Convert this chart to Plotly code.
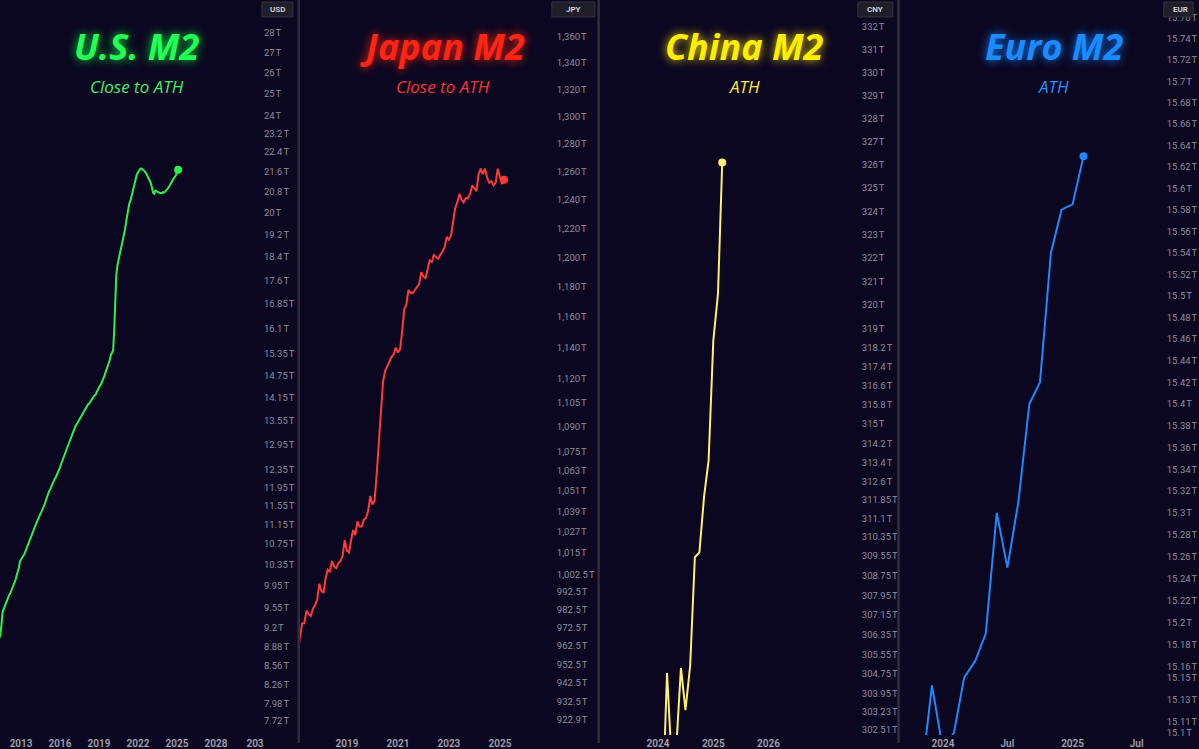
import math
import pandas as pd
import plotly.graph_objects as go

W, H = 1199, 749
SX, SY = 1.0048, 1.0052  # small correction so marks land where the reference puts them
BG = "#0c0720"
B = 737  # bottom pixel of plot areas

# ---------------- DATA ----------------
us_dates = pd.date_range("2011-01-01", "2025-02-01", freq="MS").strftime("%Y-%m-%d").tolist()
us_m2 = [
    8.82, 8.86, 8.91, 8.96, 9.01, 9.09, 9.25, 9.47, 9.52, 9.57, 9.62, 9.66,
    9.74, 9.77, 9.80, 9.85, 9.89, 9.95, 10.01, 10.06, 10.14, 10.21, 10.28, 10.41,
    10.44, 10.47, 10.52, 10.55, 10.60, 10.66, 10.71, 10.75, 10.82, 10.90, 10.97, 11.02,
    11.06, 11.13, 11.17, 11.23, 11.27, 11.34, 11.38, 11.43, 11.48, 11.53, 11.59, 11.67,
    11.75, 11.84, 11.87, 11.91, 11.97, 12.04, 12.09, 12.14, 12.18, 12.23, 12.28, 12.33,
    12.41, 12.49, 12.56, 12.63, 12.67, 12.74, 12.82, 12.90, 12.97, 13.04, 13.11, 13.21,
    13.25, 13.32, 13.39, 13.44, 13.48, 13.53, 13.57, 13.63, 13.68, 13.73, 13.79, 13.84,
    13.87, 13.92, 13.97, 13.99, 14.04, 14.08, 14.13, 14.17, 14.20, 14.23, 14.30, 14.37,
    14.43, 14.47, 14.51, 14.57, 14.64, 14.73, 14.82, 14.91, 14.98, 15.09, 15.18, 15.32,
    15.41, 15.45, 16.02, 17.04, 17.81, 18.12, 18.30, 18.37, 18.60, 18.78, 18.95, 19.13,
    19.38, 19.66, 19.91, 20.13, 20.34, 20.44, 20.59, 20.78, 20.96, 21.13, 21.32, 21.49,
    21.58, 21.61, 21.70, 21.72, 21.66, 21.65, 21.62, 21.57, 21.49, 21.39, 21.32, 21.22,
    21.12, 20.95, 20.76, 20.72, 20.84, 20.82, 20.79, 20.77, 20.75, 20.75, 20.74, 20.78,
    20.76, 20.80, 20.84, 20.88, 20.95, 21.02, 21.08, 21.17, 21.26, 21.31, 21.40, 21.45,
    21.56, 21.67,
]

jp_dates = pd.date_range("2017-01-01", "2025-03-01", freq="MS").strftime("%Y-%m-%d").tolist()
jp_m2 = [
    962, 960, 968, 975, 975, 982, 980, 979, 983, 985, 988, 997,
    993, 992, 1000, 1005, 1004, 1010, 1007, 1006, 1009, 1010, 1013, 1022,
    1016, 1015, 1022, 1028, 1025, 1033, 1030, 1030, 1034, 1035, 1039, 1048,
    1043, 1045, 1060, 1080, 1100, 1118, 1125, 1128, 1132, 1134, 1136, 1140,
    1137, 1139, 1150, 1165, 1168, 1178, 1176, 1176, 1178, 1180, 1182, 1190,
    1187, 1186, 1192, 1198, 1197, 1202, 1200, 1199, 1202, 1204, 1207, 1214,
    1212, 1215, 1224, 1234, 1238, 1244, 1240, 1238, 1241, 1241, 1244, 1250,
    1248, 1246, 1258, 1262, 1258, 1262, 1256, 1252, 1253, 1250, 1252, 1262,
    1256, 1251, 1254,
]

cn_dates = pd.date_range("2023-01-01", "2025-03-01", freq="MS").strftime("%Y-%m-%d").tolist()
cn_m2 = [
    273.8, 275.5, 281.5, 280.9, 282.1, 287.3, 285.4, 286.9, 289.7, 288.2, 291.0, 292.3,
    297.6, 299.6, 304.8, 301.2, 301.8, 305.0, 303.3, 305.1, 309.5, 309.7, 312.0, 313.5,
    318.5, 320.5, 326.1,
]

eu_dates = pd.date_range("2023-11-01", "2025-02-01", freq="MS").strftime("%Y-%m-%d").tolist()
eu_m2 = [
    15.06, 15.143, 15.085, 15.10, 15.15, 15.165, 15.19, 15.30, 15.25, 15.31,
    15.40, 15.42, 15.54, 15.58, 15.585, 15.63,
]

# tick labels
us_ticks = [28, 27, 26, 25, 24, 23.2, 22.4, 21.6, 20.8, 20, 19.2, 18.4, 17.6, 16.85, 16.1,
            15.35, 14.75, 14.15, 13.55, 12.95, 12.35, 11.95, 11.55, 11.15, 10.75, 10.35,
            9.95, 9.55, 9.2, 8.88, 8.56, 8.26, 7.98, 7.72]
jp_ticks = [1360, 1340, 1320, 1300, 1280, 1260, 1240, 1220, 1200, 1180, 1160, 1140, 1120,
            1105, 1090, 1075, 1063, 1051, 1039, 1027, 1015, 1002.5, 992.5, 982.5, 972.5,
            962.5, 952.5, 942.5, 932.5, 922.9]
cn_ticks = [332, 331, 330, 329, 328, 327, 326, 325, 324, 323, 322, 321, 320, 319, 318.2,
            317.4, 316.6, 315.8, 315, 314.2, 313.4, 312.6, 311.85, 311.1, 310.35, 309.55,
            308.75, 307.95, 307.15, 306.35, 305.55, 304.75, 303.95, 303.23, 302.51]
eu_ticks = [15.76, 15.74, 15.72, 15.7, 15.68, 15.66, 15.64, 15.62, 15.6, 15.58, 15.56, 15.54,
            15.52, 15.5, 15.48, 15.46, 15.44, 15.42, 15.4, 15.38, 15.36, 15.34, 15.32, 15.3,
            15.28, 15.26, 15.24, 15.22, 15.2, 15.18, 15.16, 15.15, 15.13, 15.11, 15.1]

us_xt = ["2013-01-01", "2016-01-01", "2019-01-01", "2022-01-01", "2025-01-01", "2028-01-01", "2031-01-01"]
us_xl = ["2013", "2016", "2019", "2022", "2025", "2028", "203"]
jp_xt = ["2019-01-01", "2021-01-01", "2023-01-01", "2025-01-01"]
jp_xl = ["2019", "2021", "2023", "2025"]
cn_xt = ["2024-01-01", "2025-01-01", "2026-01-01"]
cn_xl = ["2024", "2025", "2026"]
eu_xt = ["2024-01-01", "2024-07-01", "2025-01-01", "2025-07-01"]
eu_xl = ["2024", "Jul", "2025", "Jul"]


def fmt_tick(v, comma=False):
    if comma:
        s = f"{v:,.1f}" if v % 1 else f"{int(v):,}"
    else:
        s = f"{v:g}"
    return s + "\u202fT"


def log_range(v1, p1, v2, p2):
    a, b = math.log10(v1), math.log10(v2)
    k = (a - b) / (p2 - p1)
    return [b - (B - p2) * k, a + p1 * k]


def px(x):
    return min(1.0, x * SX / W)


def py(y):
    return max(0.0, 1 - y * SY / H)


panels = [
    dict(name="U.S. M2", sub="Close to ATH", cur="USD", x=us_dates, y=us_m2,
         color="#2cf04c", tcol="#22ff55", glow="rgba(0,255,70,0.9)", scol="#3df06a",
         dom=(0, 258), xr=["2011-05-20", "2031-03-25"], yr=log_range(28, 33, 7.72, 723),
         ticks=us_ticks, comma=False, xt=us_xt, xl=us_xl, cx=137, box=(262, 293)),
    dict(name="Japan M2", sub="Close to ATH", cur="JPY", x=jp_dates, y=jp_m2,
         color="#ff3a3a", tcol="#ff2414", glow="rgba(255,40,20,0.9)", scol="#ff3333",
         dom=(300, 551), xr=["2017-02-27", "2027-01-01"], yr=log_range(1360, 37, 922.9, 722),
         ticks=jp_ticks, comma=True, xt=jp_xt, xl=jp_xl, cx=443, box=(552, 595)),
    dict(name="China M2", sub="ATH", cur="CNY", x=cn_dates, y=cn_m2,
         color="#fff06a", tcol="#ffee00", glow="rgba(255,230,0,0.9)", scol="#ffe84a",
         dom=(600, 856), xr=["2022-12-13", "2027-08-01"], yr=log_range(332, 27, 302.51, 732),
         ticks=cn_ticks, comma=False, xt=cn_xt, xl=cn_xl, cx=745, box=(858, 893)),
    dict(name="Euro M2", sub="ATH", cur="EUR", x=eu_dates, y=eu_m2,
         color="#1e88ff", tcol="#1a8cff", glow="rgba(20,130,255,0.95)", scol="#2a8fff",
         dom=(901, 1161), xr=["2023-09-04", "2025-09-07"], yr=log_range(15.74, 39, 15.1, 735),
         ticks=eu_ticks, comma=False, xt=eu_xt, xl=eu_xl, cx=1054, box=(1164, 1197)),
]

fig = go.Figure()
layout = dict(
    width=W, height=H, margin=dict(l=0, r=0, t=0, b=0),
    paper_bgcolor=BG, plot_bgcolor=BG, showlegend=False,
    shapes=[], annotations=[],
)

for i, p in enumerate(panels, start=1):
    xa = "x" if i == 1 else f"x{i}"
    ya = "y" if i == 1 else f"y{i}"
    fig.add_trace(go.Scatter(x=p["x"], y=p["y"], mode="lines", xaxis=xa, yaxis=ya,
                             line=dict(color=p["color"], width=2), hoverinfo="skip"))
    fig.add_trace(go.Scatter(x=[p["x"][-1]], y=[p["y"][-1]], mode="markers", xaxis=xa, yaxis=ya,
                             marker=dict(color=p["color"], size=8), hoverinfo="skip",
                             cliponaxis=False))
    layout[f"xaxis{i if i > 1 else ''}"] = dict(
        domain=[px(p["dom"][0]), px(p["dom"][1])], anchor=ya, type="date", range=p["xr"],
        tickvals=p["xt"], ticktext=p["xl"], showgrid=False, zeroline=False, showline=False,
        ticks="", tickfont=dict(family="Roboto", size=10, color="#a4a3b3", weight=600),
        ticklabelstandoff=1, fixedrange=True,
    )
    layout[f"yaxis{i if i > 1 else ''}"] = dict(
        domain=[py(B), 1], anchor=xa, side="right", type="log", range=p["yr"],
        tickvals=p["ticks"], ticktext=[fmt_tick(v, p["comma"]) for v in p["ticks"]],
        showgrid=False, zeroline=False, showline=False, ticks="",
        tickfont=dict(family="Roboto", size=9.5, color="#8e8c9e"),
        ticklabelstandoff=5, fixedrange=True,
    )
    # titles
    layout["annotations"].append(dict(
        x=px(p["cx"]), y=py(47), xref="paper", yref="paper", text=p["name"], showarrow=False,
        xanchor="center", yanchor="middle",
        font=dict(family="Open Sans", size=36, color=p["tcol"], weight=700, style="italic",
                  shadow=f"0px 0px 10px {p['glow']}")))
    layout["annotations"].append(dict(
        x=px(p["cx"]), y=py(87), xref="paper", yref="paper", text=p["sub"], showarrow=False,
        xanchor="center", yanchor="middle",
        font=dict(family="Open Sans", size=17, color=p["scol"], style="italic")))
    # currency box
    x0, x1 = p["box"]
    layout["shapes"].append(dict(type="rect", xref="paper", yref="paper",
                                 x0=px(x0), x1=px(x1), y0=py(17), y1=py(2),
                                 fillcolor="#1f1e29", line=dict(color="#34333f", width=1)))
    layout["annotations"].append(dict(
        x=px((x0 + x1) / 2), y=py(9.5), xref="paper", yref="paper", text=p["cur"], showarrow=False,
        xanchor="center", yanchor="middle",
        font=dict(family="Roboto", size=8, color="#d8d8e0", weight=600)))

# separators
for sx in (297.5, 597.5, 897.5):
    layout["shapes"].append(dict(type="rect", xref="paper", yref="paper",
                                 x0=px(sx), x1=px(sx + 2.5), y0=0, y1=1,
                                 fillcolor="#2f2e3a", line=dict(width=0), layer="above"))

fig.update_layout(**layout)
fig.write_html("out.html")
